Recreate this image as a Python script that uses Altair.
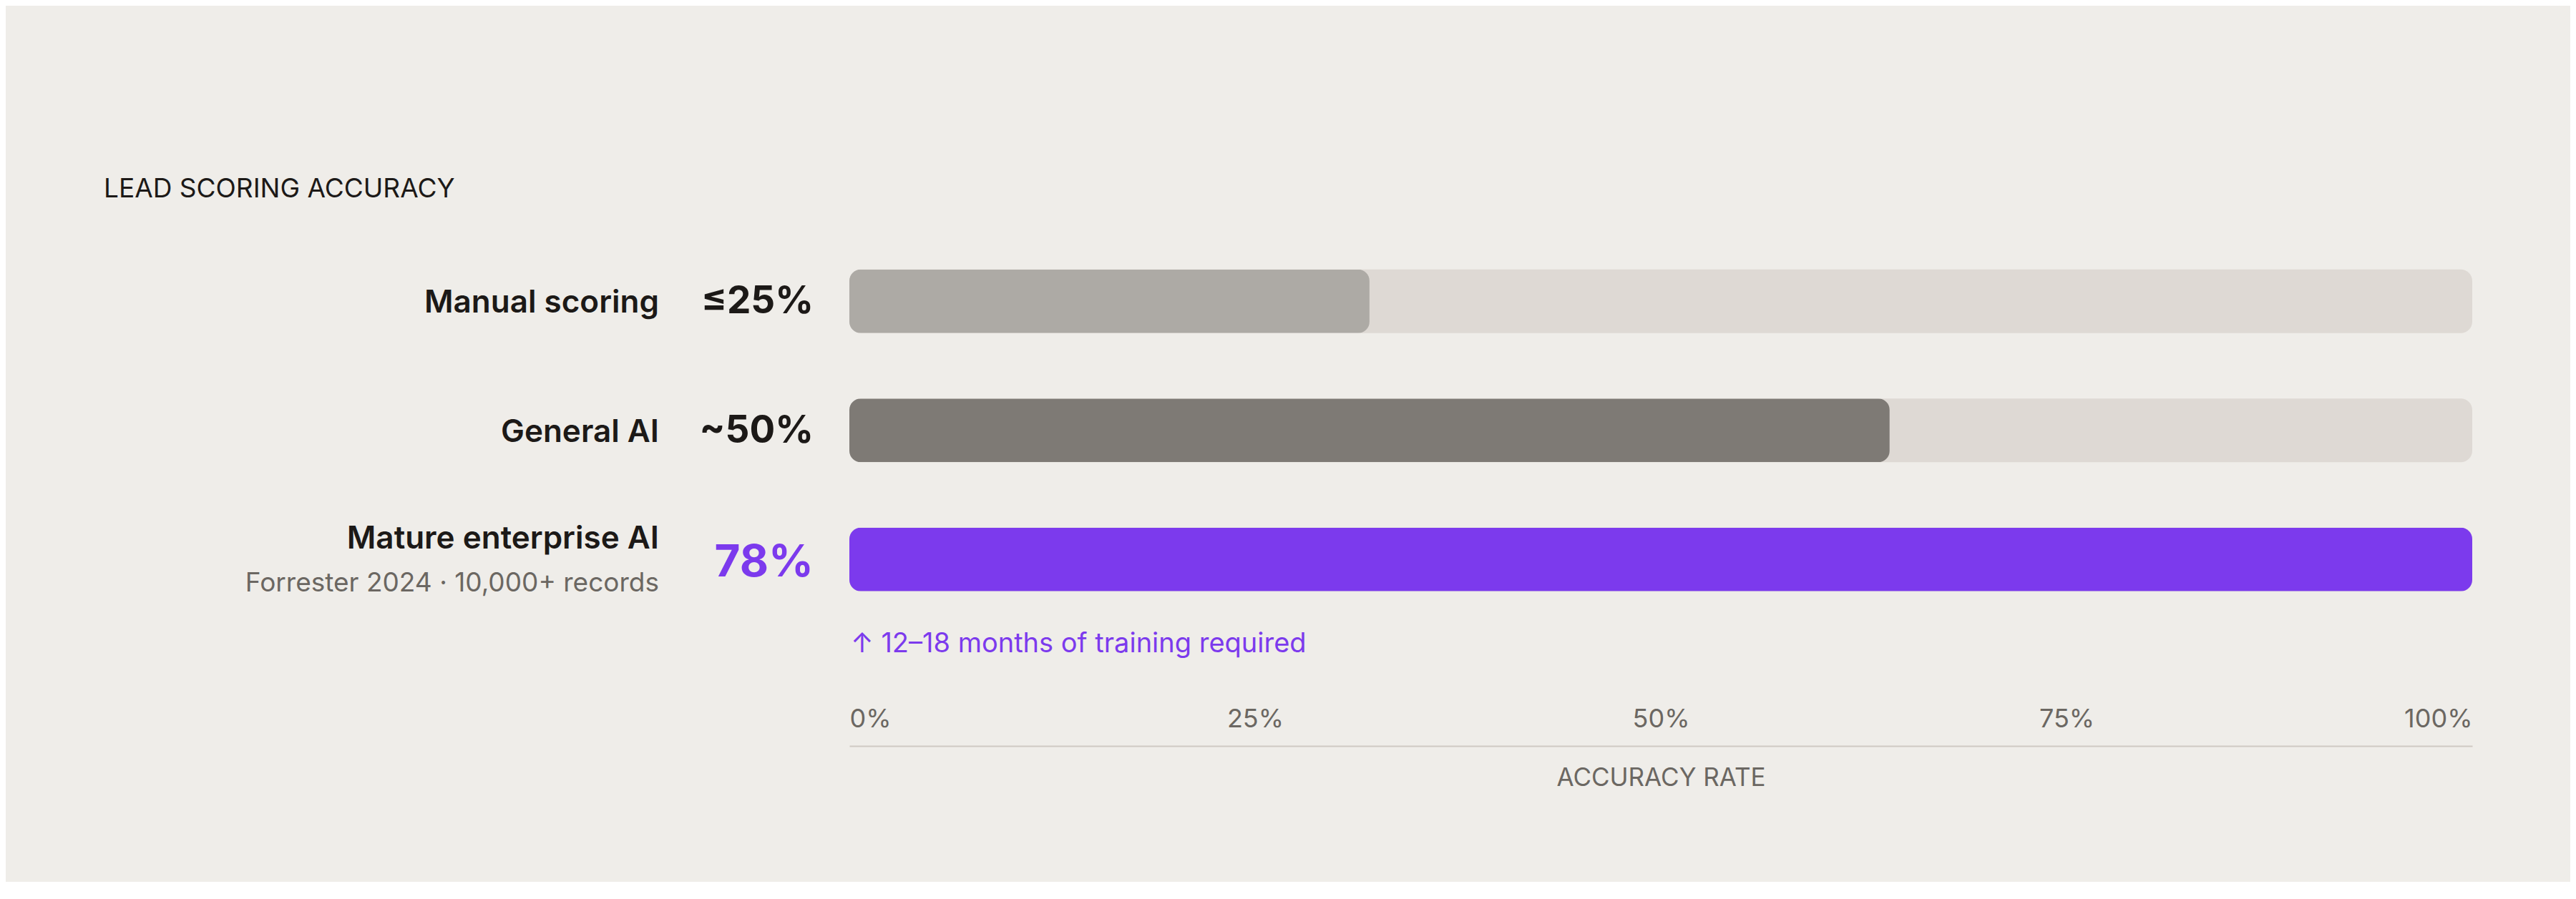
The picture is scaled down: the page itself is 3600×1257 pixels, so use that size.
import altair as alt
import pandas as pd

# ---- data ----
categories = ["Manual scoring", "General AI", "Mature enterprise AI"]
accuracy = [25, 50, 78]
value_labels = ["≤25%", "~50%", "78%"]
bar_colors = ["#adaaa5", "#7e7a75", "#7c3aed"]
highlight = [False, False, True]
sub_labels = ["", "", "Forrester 2024 · 10,000+ records"]
notes = ["", "", "↑ 12–18 months of training required"]
axis_ticks = [0, 25, 50, 75, 100]

df = pd.DataFrame({
    "category": categories,
    "accuracy": accuracy,
    "value_label": value_labels,
    "highlight": highlight,
    "sub": sub_labels,
    "note": notes,
})

# ---- style ----
FONT = "Inter"
BG = "#efede9"
TRACK = "#ded9d4"
DARK = "#1c1917"
MUTED = "#6b6762"
PURPLE = "#7c3aed"
AXIS_LINE = "#cfcac3"

x_scale = alt.Scale(domain=[0, 100], nice=False, zero=True)
x_axis = alt.Axis(
    values=axis_ticks,
    labelExpr="datum.value + '%'",
    labelFlush=True,
    grid=False,
    ticks=False,
    tickSize=0,
    domain=True,
    domainColor=AXIS_LINE,
    domainWidth=2,
    labelPadding=-27,
    labelBaseline="alphabetic",
    labelFont=FONT,
    labelFontSize=36,
    labelFontWeight=400,
    labelColor=MUTED,
    title="ACCURACY RATE",
    titleFont=FONT,
    titleFontSize=35,
    titleFontWeight=400,
    titleColor=MUTED,
    titlePadding=27,
)
y_enc = alt.Y(
    "category:N",
    sort=categories,
    axis=None,
    scale=alt.Scale(paddingInner=0, paddingOuter=0.472, align=0),
)
x_zero = alt.XDatum(0, type="quantitative", scale=x_scale, axis=x_axis)

base = alt.Chart(df).transform_joinaggregate(
    max_acc="max(accuracy)"
).transform_calculate(
    rel="datum.accuracy / datum.max_acc * 100"
)

track = base.mark_bar(size=89, cornerRadius=16, color=TRACK).encode(
    x=alt.XDatum(100, type="quantitative", scale=x_scale, axis=x_axis),
    y=y_enc,
)

fill = base.mark_bar(size=89, cornerRadius=16).encode(
    x=alt.X("rel:Q", scale=x_scale, axis=x_axis),
    y=y_enc,
    color=alt.Color("category:N", scale=alt.Scale(domain=categories, range=bar_colors), legend=None),
)

plain = base.transform_filter("!datum.highlight")
hi = base.transform_filter("datum.highlight")

label_plain = plain.mark_text(
    align="right", baseline="alphabetic", dx=-266, dy=16,
    font=FONT, fontSize=44, fontWeight=600, color=DARK,
).encode(x=x_zero, y=y_enc, text="category:N")

label_hi = hi.mark_text(
    align="right", baseline="alphabetic", dx=-266, dy=-15,
    font=FONT, fontSize=44, fontWeight=600, color=DARK,
).encode(x=x_zero, y=y_enc, text="category:N")

sub_hi = hi.mark_text(
    align="right", baseline="alphabetic", dx=-266, dy=45,
    font=FONT, fontSize=37, fontWeight=400, color=MUTED,
).encode(x=x_zero, y=y_enc, text="sub:N")

value_plain = plain.mark_text(
    align="right", baseline="alphabetic", dx=-50, dy=17,
    font=FONT, fontSize=53, fontWeight=700, color=DARK,
).encode(x=x_zero, y=y_enc, text="value_label:N")

value_hi = hi.mark_text(
    align="right", baseline="alphabetic", dx=-50, dy=24,
    font=FONT, fontSize=62, fontWeight=700, color=PURPLE,
).encode(x=x_zero, y=y_enc, text="value_label:N")

note_hi = hi.mark_text(
    align="left", baseline="alphabetic", dx=2, dy=130,
    font=FONT, fontSize=38, fontWeight=400, color=PURPLE,
).encode(x=x_zero, y=y_enc, text="note:N")

chart = alt.layer(
    track, fill, label_plain, label_hi, sub_hi, value_plain, value_hi, note_hi
).properties(
    width=2268,
    height=712,
    padding={"left": 1179, "top": 323, "right": 137, "bottom": 190},
    autosize=alt.AutoSizeParams(type="none"),
    title=alt.TitleParams(
        "LEAD SCORING ACCURACY",
        anchor="start",
        frame="group",
        dx=-1042,
        offset=18,
        baseline="alphabetic",
        font=FONT,
        fontSize=37,
        fontWeight=400,
        color=DARK,
    ),
).configure(
    background=BG,
).configure_view(
    stroke=None,
)

chart.save("out.html", embed_options={"renderer": "svg", "actions": False})
